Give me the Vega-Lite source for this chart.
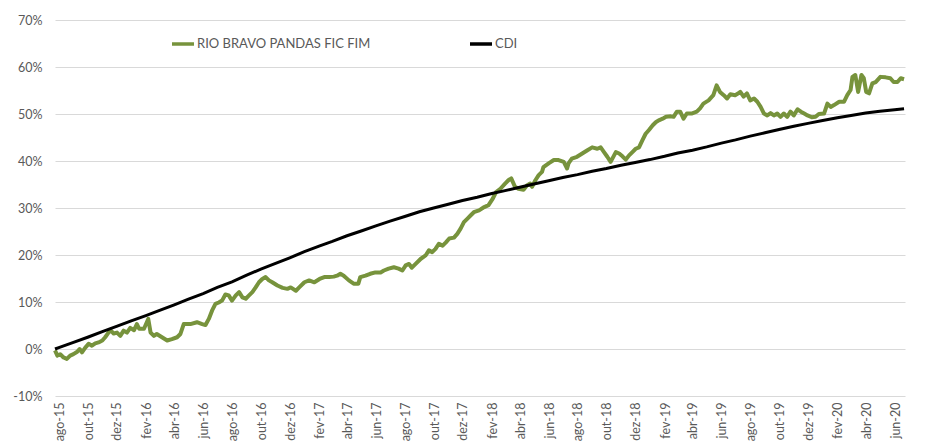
{
  "$schema": "https://vega.github.io/schema/vega-lite/v6.json",
  "width": 850,
  "height": 376,
  "autosize": {"type": "none"},
  "padding": {"left": 55, "top": 20, "right": 21, "bottom": 47},
  "background": "white",
  "config": {
    "view": {"stroke": null},
    "font": "Lato",
    "axis": {"labelFont": "Lato", "labelColor": "#595959", "labelFontSize": 12.5}
  },
  "datasets": {
    "fund": [
      {"date": "2015-07-23", "value": -0.3}, {"date": "2015-07-28", "value": -1.4}, {"date": "2015-08-03", "value": -1.1}, {"date": "2015-08-10", "value": -1.8},
      {"date": "2015-08-17", "value": -2.1}, {"date": "2015-08-24", "value": -1.4}, {"date": "2015-08-31", "value": -1.1}, {"date": "2015-09-08", "value": -0.6},
      {"date": "2015-09-13", "value": 0.0}, {"date": "2015-09-18", "value": -0.7}, {"date": "2015-09-25", "value": 0.3}, {"date": "2015-10-02", "value": 1.1},
      {"date": "2015-10-09", "value": 0.7}, {"date": "2015-10-16", "value": 1.2}, {"date": "2015-10-23", "value": 1.4}, {"date": "2015-10-31", "value": 1.8},
      {"date": "2015-11-06", "value": 2.5}, {"date": "2015-11-13", "value": 3.5}, {"date": "2015-11-18", "value": 3.9}, {"date": "2015-11-24", "value": 3.3},
      {"date": "2015-12-01", "value": 3.5}, {"date": "2015-12-08", "value": 2.8}, {"date": "2015-12-15", "value": 3.9}, {"date": "2015-12-22", "value": 3.5},
      {"date": "2015-12-29", "value": 4.5}, {"date": "2016-01-06", "value": 4.0}, {"date": "2016-01-12", "value": 5.3}, {"date": "2016-01-17", "value": 4.3},
      {"date": "2016-01-27", "value": 4.3}, {"date": "2016-02-05", "value": 6.4}, {"date": "2016-02-10", "value": 3.5}, {"date": "2016-02-17", "value": 2.8},
      {"date": "2016-02-23", "value": 3.2}, {"date": "2016-03-05", "value": 2.5}, {"date": "2016-03-16", "value": 1.8}, {"date": "2016-03-26", "value": 2.1},
      {"date": "2016-04-06", "value": 2.5}, {"date": "2016-04-13", "value": 3.2}, {"date": "2016-04-20", "value": 5.3}, {"date": "2016-05-04", "value": 5.3},
      {"date": "2016-05-18", "value": 5.7}, {"date": "2016-05-29", "value": 5.3}, {"date": "2016-06-05", "value": 5.1}, {"date": "2016-06-12", "value": 6.4},
      {"date": "2016-06-19", "value": 8.2}, {"date": "2016-06-26", "value": 9.6}, {"date": "2016-07-03", "value": 9.9}, {"date": "2016-07-10", "value": 10.3},
      {"date": "2016-07-17", "value": 11.6}, {"date": "2016-07-24", "value": 11.4}, {"date": "2016-07-31", "value": 10.3}, {"date": "2016-08-08", "value": 11.4},
      {"date": "2016-08-15", "value": 12.1}, {"date": "2016-08-22", "value": 11.0}, {"date": "2016-08-29", "value": 10.7}, {"date": "2016-09-05", "value": 11.4},
      {"date": "2016-09-12", "value": 12.1}, {"date": "2016-09-19", "value": 13.1}, {"date": "2016-09-26", "value": 14.2}, {"date": "2016-10-03", "value": 14.9},
      {"date": "2016-10-10", "value": 15.3}, {"date": "2016-10-17", "value": 14.6}, {"date": "2016-10-24", "value": 14.2}, {"date": "2016-11-04", "value": 13.5},
      {"date": "2016-11-15", "value": 13.0}, {"date": "2016-11-25", "value": 12.8}, {"date": "2016-12-02", "value": 13.1}, {"date": "2016-12-13", "value": 12.4},
      {"date": "2016-12-20", "value": 13.1}, {"date": "2016-12-31", "value": 14.2}, {"date": "2017-01-10", "value": 14.6}, {"date": "2017-01-21", "value": 14.2},
      {"date": "2017-02-01", "value": 14.9}, {"date": "2017-02-11", "value": 15.3}, {"date": "2017-02-21", "value": 15.3}, {"date": "2017-03-03", "value": 15.4},
      {"date": "2017-03-10", "value": 15.6}, {"date": "2017-03-17", "value": 16.0}, {"date": "2017-03-24", "value": 15.6}, {"date": "2017-04-04", "value": 14.6},
      {"date": "2017-04-14", "value": 13.9}, {"date": "2017-04-24", "value": 13.9}, {"date": "2017-04-28", "value": 15.3}, {"date": "2017-05-09", "value": 15.6},
      {"date": "2017-05-19", "value": 16.0}, {"date": "2017-05-30", "value": 16.3}, {"date": "2017-06-10", "value": 16.3}, {"date": "2017-06-17", "value": 16.7},
      {"date": "2017-06-27", "value": 17.1}, {"date": "2017-07-08", "value": 17.4}, {"date": "2017-07-18", "value": 17.1}, {"date": "2017-07-26", "value": 16.7},
      {"date": "2017-08-02", "value": 17.8}, {"date": "2017-08-09", "value": 18.1}, {"date": "2017-08-15", "value": 17.3}, {"date": "2017-08-23", "value": 18.1},
      {"date": "2017-09-03", "value": 19.2}, {"date": "2017-09-13", "value": 19.9}, {"date": "2017-09-20", "value": 21.0}, {"date": "2017-09-27", "value": 20.6},
      {"date": "2017-10-04", "value": 21.3}, {"date": "2017-10-11", "value": 22.4}, {"date": "2017-10-19", "value": 22.0}, {"date": "2017-10-26", "value": 22.7},
      {"date": "2017-11-02", "value": 23.5}, {"date": "2017-11-12", "value": 23.7}, {"date": "2017-11-19", "value": 24.5}, {"date": "2017-11-26", "value": 25.6},
      {"date": "2017-12-03", "value": 27.0}, {"date": "2017-12-10", "value": 27.7}, {"date": "2017-12-17", "value": 28.4}, {"date": "2017-12-24", "value": 29.1},
      {"date": "2018-01-04", "value": 29.5}, {"date": "2018-01-15", "value": 30.2}, {"date": "2018-01-24", "value": 30.6}, {"date": "2018-02-02", "value": 32.0},
      {"date": "2018-02-09", "value": 33.4}, {"date": "2018-02-18", "value": 34.1}, {"date": "2018-02-28", "value": 35.2}, {"date": "2018-03-07", "value": 35.9},
      {"date": "2018-03-13", "value": 36.3}, {"date": "2018-03-21", "value": 34.5}, {"date": "2018-03-28", "value": 34.1}, {"date": "2018-04-08", "value": 33.9},
      {"date": "2018-04-15", "value": 34.8}, {"date": "2018-04-22", "value": 35.2}, {"date": "2018-04-26", "value": 34.5}, {"date": "2018-05-03", "value": 35.9},
      {"date": "2018-05-10", "value": 37.0}, {"date": "2018-05-17", "value": 37.7}, {"date": "2018-05-20", "value": 38.7}, {"date": "2018-05-31", "value": 39.5},
      {"date": "2018-06-11", "value": 40.2}, {"date": "2018-06-21", "value": 40.2}, {"date": "2018-07-02", "value": 39.8}, {"date": "2018-07-09", "value": 38.4},
      {"date": "2018-07-12", "value": 39.5}, {"date": "2018-07-19", "value": 40.5}, {"date": "2018-07-30", "value": 40.9}, {"date": "2018-08-10", "value": 41.6},
      {"date": "2018-08-21", "value": 42.3}, {"date": "2018-08-31", "value": 42.9}, {"date": "2018-09-11", "value": 42.6}, {"date": "2018-09-18", "value": 42.9},
      {"date": "2018-09-25", "value": 41.9}, {"date": "2018-10-02", "value": 40.9}, {"date": "2018-10-09", "value": 39.8}, {"date": "2018-10-20", "value": 41.9},
      {"date": "2018-10-27", "value": 41.6}, {"date": "2018-11-03", "value": 41.0}, {"date": "2018-11-10", "value": 40.3}, {"date": "2018-11-17", "value": 41.2},
      {"date": "2018-11-24", "value": 41.9}, {"date": "2018-12-01", "value": 42.6}, {"date": "2018-12-08", "value": 42.9}, {"date": "2018-12-15", "value": 44.4},
      {"date": "2018-12-22", "value": 45.8}, {"date": "2018-12-29", "value": 46.6}, {"date": "2019-01-06", "value": 47.6}, {"date": "2019-01-13", "value": 48.3},
      {"date": "2019-01-20", "value": 48.7}, {"date": "2019-01-27", "value": 49.0}, {"date": "2019-02-03", "value": 49.4}, {"date": "2019-02-13", "value": 49.5},
      {"date": "2019-02-19", "value": 49.4}, {"date": "2019-02-26", "value": 50.5}, {"date": "2019-03-05", "value": 50.5}, {"date": "2019-03-12", "value": 49.0},
      {"date": "2019-03-19", "value": 50.1}, {"date": "2019-03-29", "value": 50.1}, {"date": "2019-04-09", "value": 50.5}, {"date": "2019-04-16", "value": 51.2},
      {"date": "2019-04-23", "value": 52.2}, {"date": "2019-05-04", "value": 52.9}, {"date": "2019-05-14", "value": 54.0}, {"date": "2019-05-21", "value": 56.1},
      {"date": "2019-05-28", "value": 54.7}, {"date": "2019-06-05", "value": 54.0}, {"date": "2019-06-12", "value": 53.3}, {"date": "2019-06-19", "value": 54.2},
      {"date": "2019-06-29", "value": 54.0}, {"date": "2019-07-06", "value": 54.4}, {"date": "2019-07-10", "value": 54.7}, {"date": "2019-07-17", "value": 53.7},
      {"date": "2019-07-24", "value": 54.4}, {"date": "2019-07-31", "value": 52.9}, {"date": "2019-08-08", "value": 53.3}, {"date": "2019-08-15", "value": 52.6},
      {"date": "2019-08-22", "value": 51.5}, {"date": "2019-08-29", "value": 50.1}, {"date": "2019-09-05", "value": 49.7}, {"date": "2019-09-12", "value": 50.2},
      {"date": "2019-09-19", "value": 49.7}, {"date": "2019-09-26", "value": 50.1}, {"date": "2019-10-03", "value": 49.4}, {"date": "2019-10-10", "value": 50.1},
      {"date": "2019-10-17", "value": 49.4}, {"date": "2019-10-24", "value": 50.5}, {"date": "2019-10-31", "value": 49.7}, {"date": "2019-11-08", "value": 51.0},
      {"date": "2019-11-15", "value": 50.5}, {"date": "2019-11-22", "value": 50.1}, {"date": "2019-11-29", "value": 49.7}, {"date": "2019-12-08", "value": 49.3},
      {"date": "2019-12-16", "value": 49.4}, {"date": "2019-12-23", "value": 50.0}, {"date": "2020-01-03", "value": 50.1}, {"date": "2020-01-10", "value": 52.2},
      {"date": "2020-01-17", "value": 51.5}, {"date": "2020-01-24", "value": 51.9}, {"date": "2020-02-04", "value": 52.6}, {"date": "2020-02-14", "value": 52.6},
      {"date": "2020-02-21", "value": 54.0}, {"date": "2020-02-28", "value": 55.1}, {"date": "2020-03-03", "value": 57.9}, {"date": "2020-03-09", "value": 58.3},
      {"date": "2020-03-15", "value": 54.7}, {"date": "2020-03-22", "value": 58.3}, {"date": "2020-03-27", "value": 57.6}, {"date": "2020-04-01", "value": 54.7},
      {"date": "2020-04-07", "value": 54.4}, {"date": "2020-04-14", "value": 56.5}, {"date": "2020-04-21", "value": 56.8}, {"date": "2020-05-01", "value": 57.9},
      {"date": "2020-05-12", "value": 57.8}, {"date": "2020-05-22", "value": 57.6}, {"date": "2020-05-29", "value": 56.8}, {"date": "2020-06-06", "value": 56.8},
      {"date": "2020-06-13", "value": 57.6}, {"date": "2020-06-20", "value": 57.4}
    ],
    "cdi": [
      {"date": "2015-07-23", "value": 0.0}, {"date": "2015-07-31", "value": 0.3}, {"date": "2015-08-31", "value": 1.4}, {"date": "2015-09-30", "value": 2.5},
      {"date": "2015-10-31", "value": 3.7}, {"date": "2015-11-30", "value": 4.8}, {"date": "2015-12-31", "value": 6.0}, {"date": "2016-01-31", "value": 7.1},
      {"date": "2016-02-29", "value": 8.2}, {"date": "2016-03-31", "value": 9.4}, {"date": "2016-04-30", "value": 10.6}, {"date": "2016-05-31", "value": 11.8},
      {"date": "2016-06-30", "value": 13.1}, {"date": "2016-07-31", "value": 14.3}, {"date": "2016-08-31", "value": 15.7}, {"date": "2016-09-30", "value": 17.0},
      {"date": "2016-10-31", "value": 18.2}, {"date": "2016-11-30", "value": 19.4}, {"date": "2016-12-31", "value": 20.7}, {"date": "2017-01-31", "value": 21.9},
      {"date": "2017-02-28", "value": 22.9}, {"date": "2017-03-31", "value": 24.1}, {"date": "2017-04-30", "value": 25.1}, {"date": "2017-05-31", "value": 26.2},
      {"date": "2017-06-30", "value": 27.2}, {"date": "2017-07-31", "value": 28.2}, {"date": "2017-08-31", "value": 29.2}, {"date": "2017-09-30", "value": 30.0},
      {"date": "2017-10-31", "value": 30.8}, {"date": "2017-11-30", "value": 31.6}, {"date": "2017-12-31", "value": 32.3}, {"date": "2018-01-31", "value": 33.1},
      {"date": "2018-02-28", "value": 33.7}, {"date": "2018-03-31", "value": 34.4}, {"date": "2018-04-30", "value": 35.1}, {"date": "2018-05-31", "value": 35.8},
      {"date": "2018-06-30", "value": 36.5}, {"date": "2018-07-31", "value": 37.1}, {"date": "2018-08-31", "value": 37.8}, {"date": "2018-09-30", "value": 38.4},
      {"date": "2018-10-31", "value": 39.1}, {"date": "2018-11-30", "value": 39.7}, {"date": "2018-12-31", "value": 40.3}, {"date": "2019-01-31", "value": 41.0},
      {"date": "2019-02-28", "value": 41.7}, {"date": "2019-03-31", "value": 42.3}, {"date": "2019-04-30", "value": 43.0}, {"date": "2019-05-31", "value": 43.8},
      {"date": "2019-06-30", "value": 44.5}, {"date": "2019-07-31", "value": 45.3}, {"date": "2019-08-31", "value": 46.0}, {"date": "2019-09-30", "value": 46.7},
      {"date": "2019-10-31", "value": 47.4}, {"date": "2019-11-30", "value": 48.0}, {"date": "2019-12-31", "value": 48.6}, {"date": "2020-01-31", "value": 49.2},
      {"date": "2020-02-29", "value": 49.7}, {"date": "2020-03-31", "value": 50.2}, {"date": "2020-04-30", "value": 50.6}, {"date": "2020-05-31", "value": 50.9},
      {"date": "2020-06-20", "value": 51.1}
    ]
  },
  "encoding": {
    "x": {
      "field": "date",
      "type": "temporal",
      "scale": {"domain": [{"year": 2015, "month": 7, "date": 23}, {"year": 2020, "month": 6, "date": 22}]},
      "axis": {
        "title": null,
        "grid": false,
        "domain": false,
        "ticks": false,
        "labelAngle": -90,
        "labelPadding": 6,
        "values": [
          {"year": 2015, "month": 8, "date": 1}, {"year": 2015, "month": 10, "date": 1}, {"year": 2015, "month": 12, "date": 1},
          {"year": 2016, "month": 2, "date": 1}, {"year": 2016, "month": 4, "date": 1}, {"year": 2016, "month": 6, "date": 1},
          {"year": 2016, "month": 8, "date": 1}, {"year": 2016, "month": 10, "date": 1}, {"year": 2016, "month": 12, "date": 1},
          {"year": 2017, "month": 2, "date": 1}, {"year": 2017, "month": 4, "date": 1}, {"year": 2017, "month": 6, "date": 1},
          {"year": 2017, "month": 8, "date": 1}, {"year": 2017, "month": 10, "date": 1}, {"year": 2017, "month": 12, "date": 1},
          {"year": 2018, "month": 2, "date": 1}, {"year": 2018, "month": 4, "date": 1}, {"year": 2018, "month": 6, "date": 1},
          {"year": 2018, "month": 8, "date": 1}, {"year": 2018, "month": 10, "date": 1}, {"year": 2018, "month": 12, "date": 1},
          {"year": 2019, "month": 2, "date": 1}, {"year": 2019, "month": 4, "date": 1}, {"year": 2019, "month": 6, "date": 1},
          {"year": 2019, "month": 8, "date": 1}, {"year": 2019, "month": 10, "date": 1}, {"year": 2019, "month": 12, "date": 1},
          {"year": 2020, "month": 2, "date": 1}, {"year": 2020, "month": 4, "date": 1}, {"year": 2020, "month": 6, "date": 1}
        ],
        "labelExpr": "['jan','fev','mar','abr','mai','jun','jul','ago','set','out','nov','dez'][month(datum.value)] + '-' + timeFormat(datum.value, '%y')"
      }
    },
    "y": {
      "field": "value",
      "type": "quantitative",
      "scale": {"domain": [-10, 70], "nice": false},
      "axis": {
        "title": null,
        "values": [-10, 0, 10, 20, 30, 40, 50, 60, 70],
        "labelExpr": "datum.value + '%'",
        "grid": true,
        "gridColor": "#D9D9D9",
        "gridWidth": 1,
        "domain": false,
        "ticks": false,
        "labelPadding": 13
      }
    }
  },
  "layer": [
    {
      "data": {"name": "fund"},
      "mark": {"type": "line", "strokeWidth": 4, "interpolate": "linear", "strokeJoin": "round"},
      "encoding": {
        "color": {
          "datum": "RIO BRAVO PANDAS FIC FIM",
          "type": "nominal",
          "scale": {"domain": ["RIO BRAVO PANDAS FIC FIM", "CDI"], "range": ["#77933C", "#000000"]},
          "legend": {
            "title": null,
            "orient": "none",
            "legendX": 115,
            "legendY": 11,
            "direction": "horizontal",
            "symbolType": "stroke",
            "symbolSize": 484,
            "symbolStrokeWidth": 3.5,
            "labelFont": "Lato",
            "labelFontSize": 13,
            "labelColor": "#595959",
            "labelOffset": 1,
            "labelLimit": 400,
            "columnPadding": 92
          }
        }
      }
    },
    {
      "data": {"name": "cdi"},
      "mark": {"type": "line", "strokeWidth": 3, "interpolate": "linear"},
      "encoding": {
        "color": {"datum": "CDI", "type": "nominal"}
      }
    }
  ]
}
